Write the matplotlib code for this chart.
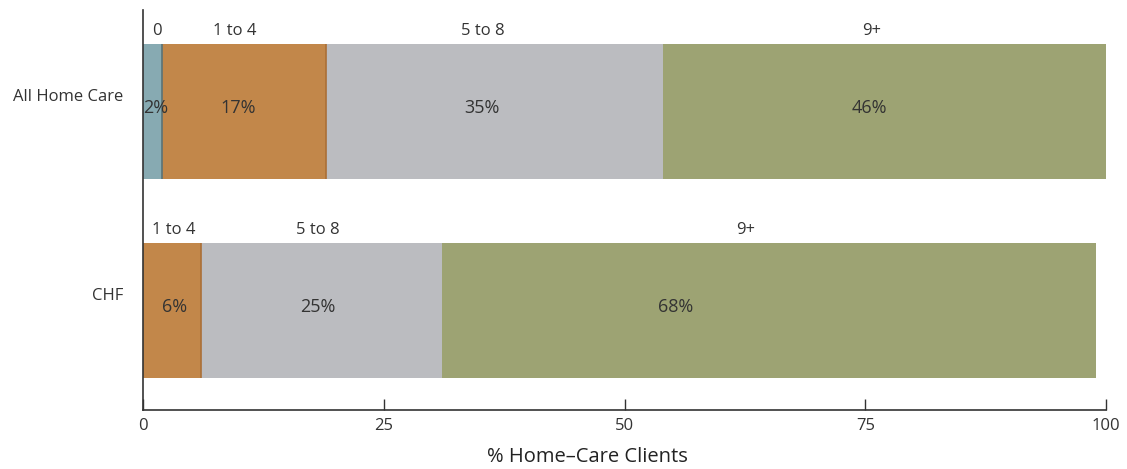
import matplotlib.pyplot as plt
from matplotlib.transforms import ScaledTranslation

plt.rcParams['font.family'] = ['Open Sans', 'DejaVu Sans']

# Share of home-care clients by number of chronic conditions
groups = ['CHF', 'All Home Care']
segments = ['0', '1 to 4', '5 to 8', '9+']
values = {
    'All Home Care': [2, 17, 35, 46],
    'CHF': [0, 6, 25, 68],
}
# where the segment names and percentages sit along the bar (% units)
name_x = {
    'All Home Care': [1.4, 9.5, 35.3, 75.7],
    'CHF': [None, 3.2, 18.1, 62.6],
}
pct_x = {
    'All Home Care': [1.3, 9.9, 35.2, 75.4],
    'CHF': [None, 3.3, 18.1, 55.3],
}
colors = ['#87aab2', '#c2874a', '#bbbcc0', '#9da373']
edges = ['#5a7378', '#ab6f36', None, None]

fig = plt.figure(figsize=(11.27, 4.69), dpi=100)
ax = fig.add_axes([0.1269, 0.1258, 0.8545, 0.8529])

text_col = '#333333'
bar_h = 0.68
for yi, g in enumerate(groups):
    left = 0
    for i, (seg, v, c, ec) in enumerate(zip(segments, values[g], colors, edges)):
        if v == 0:
            continue
        ax.barh(yi, v, left=left, height=bar_h, color=c, linewidth=0)
        if ec:
            ax.vlines(left + v, yi - bar_h / 2, yi + bar_h / 2, color=ec, linewidth=1.2)
        ax.text(pct_x[g][i], yi + 0.02, f'{v}%', ha='center', va='center',
                fontsize=13, color=text_col)
        ax.text(name_x[g][i], yi + bar_h / 2 + 0.025, seg, ha='center', va='bottom',
                fontsize=12, color=text_col)
        left += v

ax.set_xlim(0, 100)
ax.set_ylim(-0.5, 1.51)
ax.set_xticks([0, 25, 50, 75, 100])
ax.set_yticks(range(len(groups)))
ax.set_yticklabels(groups)
ax.tick_params(axis='x', direction='in', length=8, width=1, colors=text_col,
               labelsize=12, pad=6)
ax.tick_params(axis='y', length=0, labelsize=12, labelcolor=text_col, pad=14)
for lbl in ax.get_yticklabels():
    lbl.set_transform(lbl.get_transform() + ScaledTranslation(0, 0.16, fig.dpi_scale_trans))

ax.set_xlabel('% Home–Care Clients', fontsize=14.5, color='#222222', fontweight='medium')
ax.xaxis.set_label_coords(0.461, -0.093)

for side in ['top', 'right']:
    ax.spines[side].set_visible(False)
for side in ['left', 'bottom']:
    ax.spines[side].set_color(text_col)
    ax.spines[side].set_linewidth(1.2)

fig.savefig('out.png', dpi=100)
